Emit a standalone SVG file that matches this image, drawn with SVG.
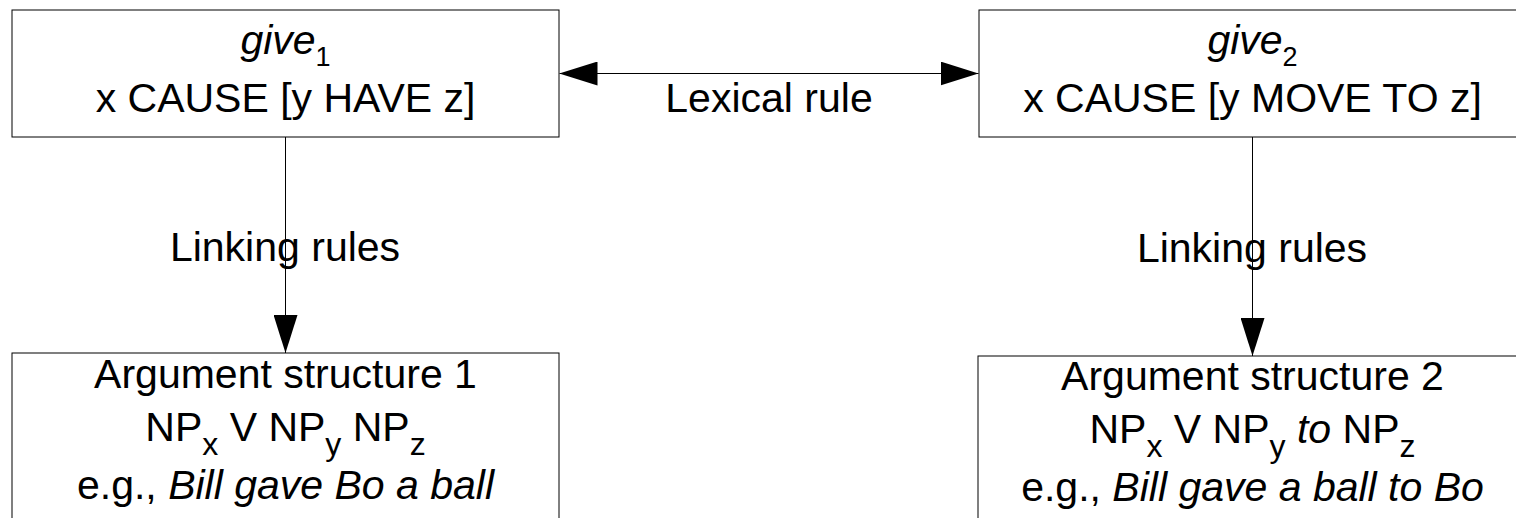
<svg xmlns="http://www.w3.org/2000/svg" width="1516" height="518" viewBox="0 0 1516 518">
  <style>
    .box { fill: #fff; stroke: #000; stroke-width: 1; }
    .t { font-family: "Liberation Sans", Arial, sans-serif; font-size: 41px; fill: #000; text-anchor: middle; }
    .it { font-style: italic; }
    .sub { font-size: 27px; font-style: normal; }
    .sub2 { font-size: 32px; font-style: normal; }
    .conn { fill: none; stroke: #000; stroke-width: 1; }
  </style>
  <defs>
    <marker id="arrow" viewBox="0 0 38 24" refX="38" refY="12" markerWidth="38" markerHeight="24" markerUnits="userSpaceOnUse" orient="auto-start-reverse">
      <path d="M0,0 L38,12 L0,24 Z" fill="#000"/>
    </marker>
  </defs>
  <rect width="1516" height="518" fill="#fff"/>

  <g id="connectors">
    <path class="conn" d="M559.5,73.5 H978.5" marker-start="url(#arrow)" marker-end="url(#arrow)"/>
    <path class="conn" d="M285.5,137 V353" marker-end="url(#arrow)"/>
    <path class="conn" d="M1252.5,137 V356" marker-end="url(#arrow)"/>
    <text class="t" x="769" y="112">Lexical rule</text>
    <text class="t" x="285" y="261">Linking rules</text>
    <text class="t" x="1252" y="262">Linking rules</text>
  </g>

  <g id="give1">
    <rect class="box" x="12" y="10" width="547" height="127"/>
    <text class="t" x="285.5" y="54"><tspan class="it">give</tspan><tspan class="sub" dy="12">1</tspan></text>
    <text class="t" x="285.5" y="112">x CAUSE [y HAVE z]</text>
  </g>

  <g id="give2">
    <rect class="box" x="979" y="10" width="547" height="127"/>
    <text class="t" x="1252.5" y="54"><tspan class="it">give</tspan><tspan class="sub" dy="12">2</tspan></text>
    <text class="t" x="1252.5" y="112">x CAUSE [y MOVE TO z]</text>
  </g>

  <g id="argstruct1">
    <rect class="box" x="12" y="353" width="547" height="200"/>
    <text class="t" x="285.5" y="388">Argument structure 1</text>
    <text class="t" x="285.5" y="441">NP<tspan class="sub2" dy="14">x</tspan><tspan dy="-14"> V NP</tspan><tspan class="sub2" dy="14">y</tspan><tspan dy="-14"> NP</tspan><tspan class="sub2" dy="14">z</tspan></text>
    <text class="t" x="285.5" y="499">e.g., <tspan class="it">Bill gave Bo a ball</tspan></text>
  </g>

  <g id="argstruct2">
    <rect class="box" x="978" y="356" width="548" height="200"/>
    <text class="t" x="1252.5" y="390">Argument structure 2</text>
    <text class="t" x="1252.5" y="443">NP<tspan class="sub2" dy="14">x</tspan><tspan dy="-14"> V NP</tspan><tspan class="sub2" dy="14">y</tspan><tspan dy="-14"> </tspan><tspan class="it">to</tspan> NP<tspan class="sub2" dy="14">z</tspan></text>
    <text class="t" x="1252.5" y="501">e.g., <tspan class="it">Bill gave a ball to Bo</tspan></text>
  </g>
</svg>
